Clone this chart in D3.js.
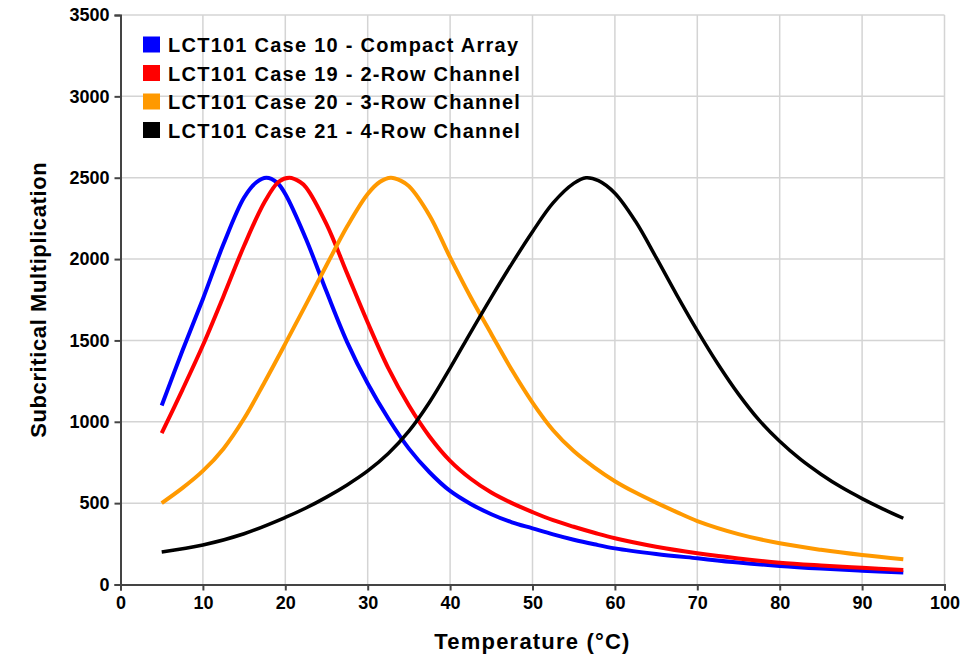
<!DOCTYPE html>
<html>
<head>
<meta charset="utf-8">
<script src="https://cdn.jsdelivr.net/npm/d3@7"></script>
<style>
  html, body { margin: 0; padding: 0; background: #fff; }
  svg { display: block; }
  text { font-family: "Liberation Sans", Arial, sans-serif; font-weight: bold; fill: #000; }
</style>
</head>
<body>
<svg id="chart" width="970" height="656"></svg>
<script>
// ---- data ----
const xTicks = [0, 10, 20, 30, 40, 50, 60, 70, 80, 90, 100];
const yTicks = [0, 500, 1000, 1500, 2000, 2500, 3000, 3500];

const seriesNames = [
  "LCT101 Case 10 - Compact Array",
  "LCT101 Case 19 - 2-Row Channel",
  "LCT101 Case 20 - 3-Row Channel",
  "LCT101 Case 21 - 4-Row Channel"
];
const seriesColors = ["#0000ff", "#ff0000", "#ff9900", "#000000"];

const case10T = [5, 7.5, 10, 12.5, 15, 16.5, 17.7, 19, 20, 22.5, 25, 27.5, 30, 32.5, 35, 37.5, 40, 42.5, 45, 47.5, 50, 52.5, 55, 57.5, 60, 65, 70, 75, 80, 85, 90, 95];
const case10V = [1100, 1435, 1755, 2092, 2378, 2472, 2500, 2470, 2400, 2125, 1800, 1490, 1235, 1020, 835, 690, 575, 495, 432, 382, 345, 308, 275, 247, 222, 188, 161, 135, 114, 98, 85, 73];

const case19T = [5, 7.5, 10, 12.5, 15, 17.5, 19.2, 20.5, 21.8, 22.5, 25, 27.5, 30, 32.5, 35, 37.5, 40, 42.5, 45, 47.5, 50, 52.5, 55, 57.5, 60, 65, 70, 75, 80, 85, 90, 95];
const case19V = [930, 1195, 1470, 1772, 2082, 2352, 2475, 2500, 2474, 2442, 2215, 1912, 1610, 1330, 1100, 910, 760, 650, 565, 500, 445, 395, 355, 318, 284, 232, 192, 160, 134, 117, 103, 89];

const case20T = [5, 7.5, 10, 12.5, 15, 17.5, 20, 22.5, 25, 27.5, 30, 31.5, 32.8, 34, 35, 37.5, 40, 42.5, 45, 47.5, 50, 52.5, 55, 57.5, 60, 62.5, 65, 67.5, 70, 75, 80, 85, 90, 95];
const case20V = [500, 592, 698, 835, 1020, 1245, 1480, 1720, 1962, 2200, 2400, 2475, 2500, 2482, 2448, 2268, 2010, 1765, 1540, 1318, 1118, 948, 820, 720, 635, 565, 503, 445, 390, 310, 253, 213, 181, 155];

const case21T = [5, 10, 15, 20, 22.5, 25, 27.5, 30, 32.5, 35, 37.5, 40, 42.5, 45, 47.5, 50, 52.5, 55, 56.5, 58, 60, 62.5, 65, 67.5, 70, 72.5, 75, 77.5, 80, 82.5, 85, 87.5, 90, 92.5, 95];
const case21V = [200, 243, 312, 412, 470, 537, 612, 698, 805, 942, 1120, 1330, 1550, 1765, 1972, 2168, 2345, 2465, 2500, 2482, 2405, 2232, 2010, 1780, 1560, 1355, 1170, 1010, 880, 770, 678, 597, 528, 465, 407];

const seriesT = [case10T, case19T, case20T, case21T];
const seriesV = [case10V, case19V, case20V, case21V];

// ---- layout ----
const svg = d3.select("#chart");
const mLeft = 120.5, mRight = 944.5, mTop = 15, mBottom = 584.5;

const x = d3.scaleLinear().domain([0, 100]).range([mLeft, mRight]);
const y = d3.scaleLinear().domain([0, 3500]).range([mBottom, mTop]);

// grid
const grid = svg.append("g");
grid.selectAll("line.v").data(xTicks.filter(d => d > 0)).enter().append("line")
  .attr("x1", d => x(d)).attr("x2", d => x(d))
  .attr("y1", mTop).attr("y2", mBottom)
  .attr("stroke", "#d4d4d4").attr("stroke-width", 1.5);
grid.selectAll("line.h").data(yTicks.filter(d => d > 0)).enter().append("line")
  .attr("x1", mLeft).attr("x2", mRight)
  .attr("y1", d => y(d)).attr("y2", d => y(d))
  .attr("stroke", "#d4d4d4").attr("stroke-width", 1.5);

// axes
const xAxis = svg.append("g").attr("transform", `translate(0,${mBottom})`)
  .call(d3.axisBottom(x).tickValues(xTicks).tickSize(6).tickPadding(6).tickFormat(d3.format("d")));
const yAxis = svg.append("g").attr("transform", `translate(${mLeft},0)`)
  .call(d3.axisLeft(y).tickValues(yTicks).tickSize(6).tickPadding(5).tickFormat(d3.format("d")));
[xAxis, yAxis].forEach(a => {
  a.select(".domain").attr("stroke", "#444").attr("stroke-width", 2);
  a.selectAll(".tick line").attr("stroke", "#444").attr("stroke-width", 2);
  a.selectAll(".tick text").style("font-size", "18px").style("font-family", "'Liberation Sans', Arial, sans-serif")
    .style("font-weight", "bold").attr("fill", "#000");
});

// lines
const line = d3.line().x(d => x(d[0])).y(d => y(d[1])).curve(d3.curveCatmullRom.alpha(0.5));
const plot = svg.append("g");
seriesT.forEach((ts, i) => {
  const pts = ts.map((t, j) => [t, seriesV[i][j]]);
  plot.append("path").datum(pts)
    .attr("d", line)
    .attr("fill", "none")
    .attr("stroke", seriesColors[i])
    .attr("stroke-width", i === 3 ? 3.5 : 4)
    .attr("stroke-linejoin", "round");
});

// legend
const legend = svg.append("g");
seriesNames.forEach((name, i) => {
  const cy = 44.5 + i * 28.5;
  legend.append("rect").attr("x", 143).attr("y", cy - 8).attr("width", 17).attr("height", 16)
    .attr("fill", seriesColors[i]);
  legend.append("text").attr("x", 168).attr("y", cy + 7.5)
    .style("font-size", "20px").style("letter-spacing", "1.25px")
    .text(name);
});

// axis titles
svg.append("text").attr("x", (mLeft + mRight) / 2).attr("y", 649)
  .attr("text-anchor", "middle").style("font-size", "22px").style("letter-spacing", "1.2px")
  .text("Temperature (°C)");
svg.append("text").attr("transform", `translate(46,${(mTop + mBottom) / 2}) rotate(-90)`)
  .attr("text-anchor", "middle").style("font-size", "22px").style("letter-spacing", "0.6px")
  .text("Subcritical Multiplication");
</script>
</body>
</html>
